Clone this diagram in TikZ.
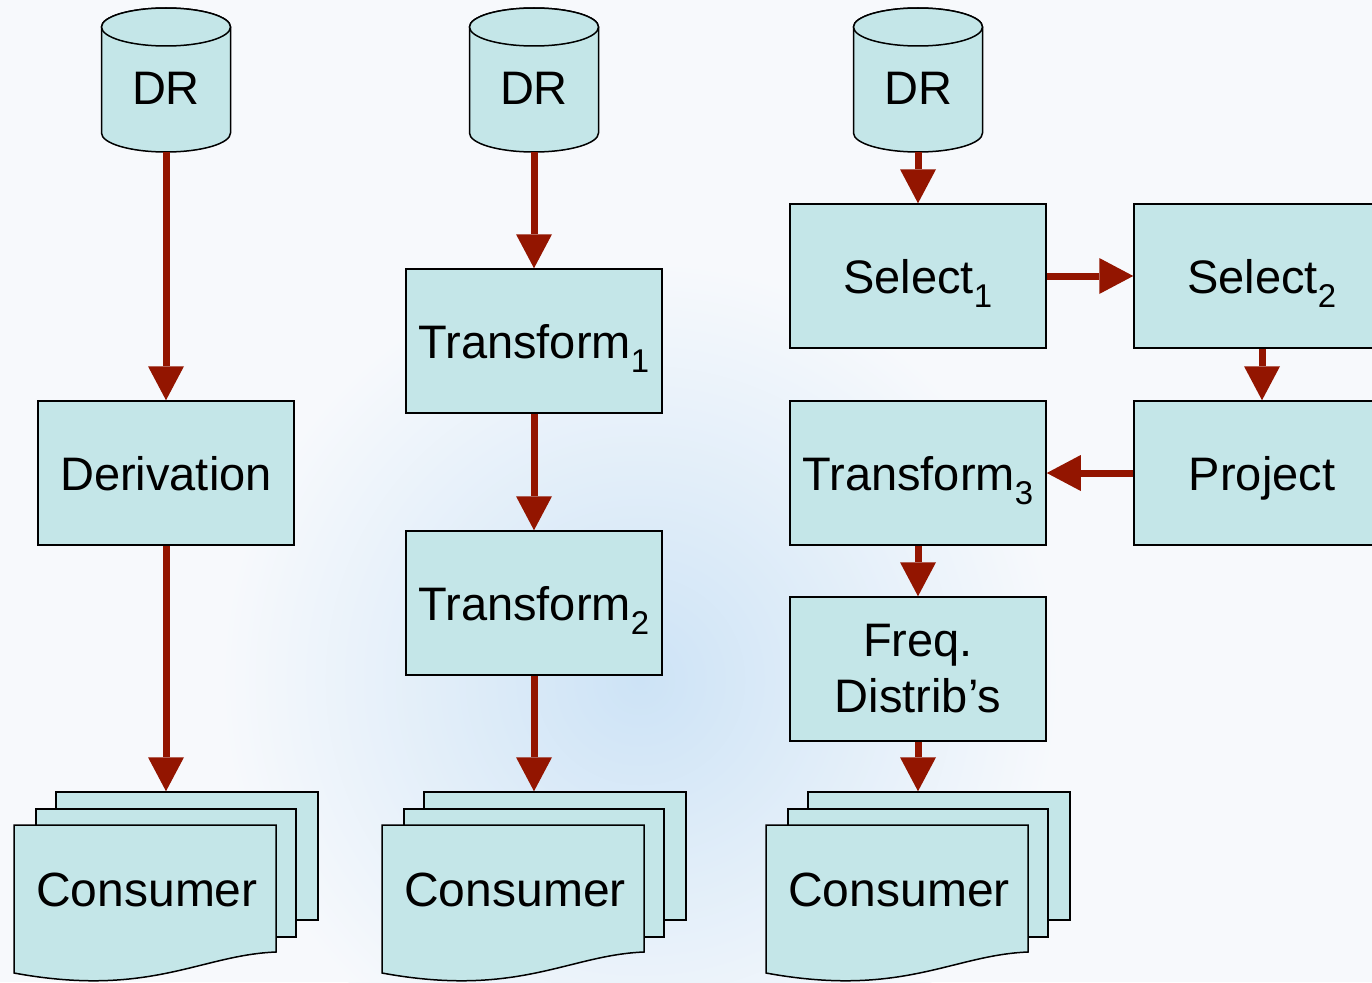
\documentclass[tikz,border=0pt]{standalone}
\usepackage{fontspec}
\setmainfont{Liberation Sans}
\usetikzlibrary{arrows.meta}
\definecolor{boxfill}{HTML}{C4E6E8}
\definecolor{arrred}{HTML}{931500}
\definecolor{bgcol}{HTML}{F7F9FC}
\definecolor{blobcol}{HTML}{CDE3F6}
\newcommand{\DRcyl}[2]{%
  \draw[cylline] (#2-64.5,27) -- (#2-64.5,133)
    arc[start angle=180,end angle=360,x radius=64.5pt,y radius=19pt]
    -- (#2+64.5,27)
    arc[start angle=0,end angle=180,x radius=64.5pt,y radius=19pt] -- cycle;
  \draw[cylline] (#2,27) ellipse[x radius=64.5pt,y radius=19pt];
  \node[minimum width=129pt,minimum height=144pt,inner sep=0pt] (#1) at (#2,80) {};
  \node[lbl] (#1t) at (#2,88) {DR};
}
\newcommand{\Consumer}[2]{%
  \node[docbox,minimum width=262pt,minimum height=128pt] (#1back) at (#2+173,856) {};
  \node[docbox,minimum width=260pt,minimum height=128pt] (#1mid) at (#2+152,873) {};
  \draw[cylline] (#2,825) -- (#2+262,825) -- (#2+262,952)
    .. controls (#2+186,955) and (#2+136,998) .. (#2,973) -- cycle;
  \node[lbl,font=\fontsize{48}{56}\selectfont] (#1) at (#2+133,890) {Consumer};
}
\begin{document}
\begin{tikzpicture}[x=1pt,y=-1pt,
  cylline/.style={draw=black,line width=1.5pt,fill=boxfill},
  docbox/.style={draw=black,line width=1.5pt,fill=boxfill,inner sep=0pt},
  box/.style={draw=black,line width=1.5pt,fill=boxfill,minimum width=256pt,
    minimum height=144pt,inner sep=0pt,align=center,font=\fontsize{47}{56}\selectfont},
  oneline/.style={text height=34pt,text depth=0pt},
  lbl/.style={font=\fontsize{47}{56}\selectfont,align=center,inner sep=0pt},
  flow/.style={draw=arrred,line width=7pt,
    -{Triangle[width=36pt,length=34pt,line width=0pt]}}
]
\useasboundingbox (0,0) rectangle (1372,982);
\clip (0,0) rectangle (1372,982);
\fill[bgcol] (0,0) rectangle (1372,982);
\shade[inner color=blobcol,outer color=bgcol] (640,680) ellipse[x radius=420pt,y radius=420pt];

% column 1
\DRcyl{dra}{166}
\node[box,oneline] (deriv) at (166,473) {Derivation};
\Consumer{cona}{14}
\draw[flow] (dra.south) -- (deriv.north);
\draw[flow] (deriv.south) -- (deriv.south |- conaback.north);

% column 2
\DRcyl{drb}{534}
\node[box,oneline] (tfa) at (534,341) {Transform\textsubscript{1}};
\node[box,oneline] (tfb) at (534,603) {Transform\textsubscript{2}};
\Consumer{conb}{382}
\draw[flow] (drb.south) -- (tfa.north);
\draw[flow] (tfa.south) -- (tfb.north);
\draw[flow] (tfb.south) -- (tfb.south |- conbback.north);

% column 3
\DRcyl{drc}{918}
\node[box,oneline] (sela) at (918,276) {Select\textsubscript{1}};
\node[box,oneline] (selb) at (1262,276) {Select\textsubscript{2}};
\node[box,oneline] (proj) at (1262,473) {Project};
\node[box,oneline] (tfc) at (918,473) {Transform\textsubscript{3}};
\node[box] (freq) at (918,669) {Freq.\\Distrib’s};
\Consumer{conc}{766}
\draw[flow] (drc.south) -- (sela.north);
\draw[flow] (sela.east) -- (selb.west);
\draw[flow] (selb.south) -- (proj.north);
\draw[flow] (proj.west) -- (tfc.east);
\draw[flow] (tfc.south) -- (freq.north);
\draw[flow] (freq.south) -- (freq.south |- concback.north);
\end{tikzpicture}
\end{document}
